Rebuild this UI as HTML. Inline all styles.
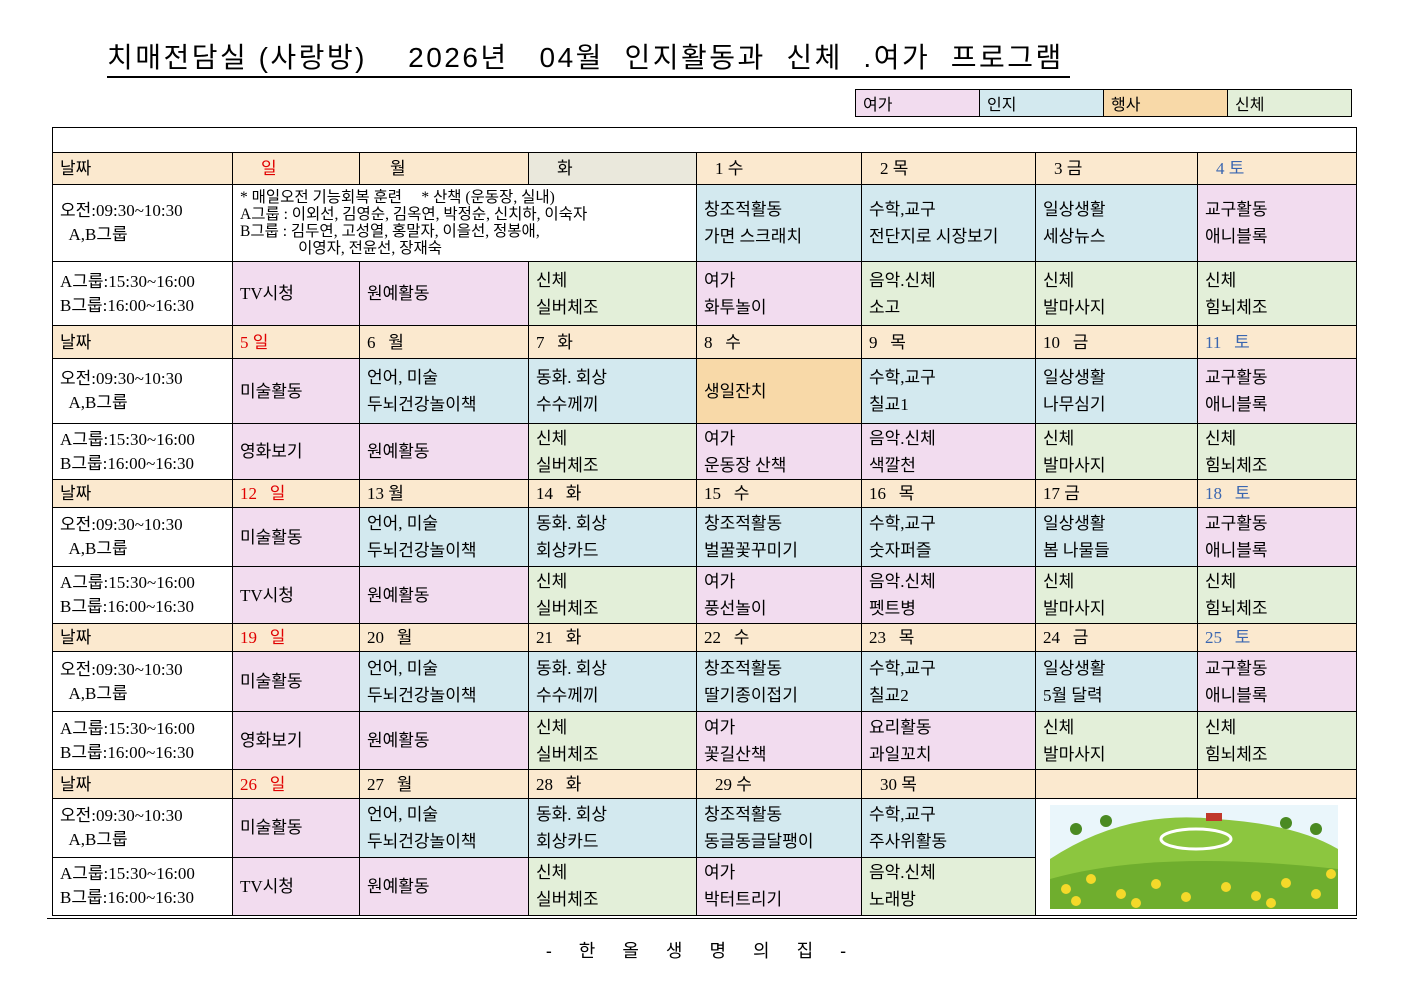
<!DOCTYPE html>
<html><head><meta charset="utf-8">
<style>
body{margin:0;background:#fff;width:1403px;height:992px;position:relative;overflow:hidden;font-family:"Liberation Serif","Noto Sans CJK KR",serif;color:#000}
.title{position:absolute;left:107px;top:40px;width:963px;height:36px;border-bottom:2px solid #000;font-family:"Liberation Sans","Noto Sans CJK KR",sans-serif;font-size:28px;line-height:36px;white-space:pre;letter-spacing:2.5px}
.legend{position:absolute;left:855px;top:89px;border-collapse:collapse}
.legend td{border:1px solid #000;width:116px;height:26px;padding:0 0 0 7px;font-size:16px;font-family:"Liberation Sans","Noto Sans CJK KR",sans-serif}
table.m{position:absolute;left:52px;top:127px;border-collapse:collapse;table-layout:fixed;width:1305px}
table.m td{border:1px solid #000;padding:0 0 0 7px;font-size:17px;line-height:27px;vertical-align:middle;overflow:hidden;white-space:nowrap}
.d td{background:#fbe9cf}
.p{background:#f2dcef}.b{background:#d3e9ef}.g{background:#e3efd9}.o{background:#f8d9a8}
.r{color:#e00000}.bl{color:#3a66b0}
.foot{position:absolute;left:47px;top:918px;width:1310px;border-top:1px solid #000}
.ft{position:absolute;left:0;width:1403px;top:937px;text-align:center;font-size:18px;letter-spacing:11px;font-family:"Liberation Sans","Noto Sans CJK KR",sans-serif}
.lbl{line-height:24px!important}
</style></head><body>
<div class="title">치매전담실 (사랑방)    2026년   04월  인지활동과  신체  .여가  프로그램</div>
<table class="legend"><tr><td class="p">여가</td><td class="b">인지</td><td class="o">행사</td><td class="g">신체</td></tr></table>
<table class="m">
<colgroup><col style="width:180px"><col style="width:127px"><col style="width:169px"><col style="width:168px"><col style="width:165px"><col style="width:174px"><col style="width:162px"><col style="width:159px"></colgroup>
<tr style="height:25px"><td colspan="8"></td></tr>
<tr class="d" style="height:32px"><td>날짜</td><td class="r" style="padding-left:28px">일</td><td style="padding-left:30px">월</td><td style="background:#eae8dc;padding-left:28px">화</td><td style="padding-left:18px">1 수</td><td style="padding-left:18px">2 목</td><td style="padding-left:18px">3 금</td><td class="bl" style="padding-left:18px">4 토</td></tr>
<tr style="height:77px"><td class="lbl">오전:09:30~10:30<br>&nbsp;&nbsp;A,B그룹</td><td colspan="3" style="font-size:15.5px;line-height:17px">* 매일오전 기능회복 훈련 &nbsp;&nbsp;&nbsp;&nbsp;* 산책 (운동장, 실내)<br>A그룹 : 이외선, 김영순, 김옥연, 박정순, 신치하, 이숙자<br>B그룹 : 김두연, 고성열, 홍말자, 이을선, 정봉애,<br>&nbsp;&nbsp;&nbsp;&nbsp;&nbsp;&nbsp;&nbsp;&nbsp;&nbsp;&nbsp;&nbsp;&nbsp;&nbsp;&nbsp;&nbsp;이영자, 전윤선, 장재숙</td><td class="b">창조적활동<br>가면 스크래치</td><td class="b">수학,교구<br>전단지로 시장보기</td><td class="b">일상생활<br>세상뉴스</td><td class="p">교구활동<br>애니블록</td></tr>
<tr style="height:64px"><td class="lbl">A그룹:15:30~16:00<br>B그룹:16:00~16:30</td><td class="p">TV시청</td><td class="p">원예활동</td><td class="g">신체<br>실버체조</td><td class="p">여가<br>화투놀이</td><td class="g">음악.신체<br>소고</td><td class="g">신체<br>발마사지</td><td class="g">신체<br>힘뇌체조</td></tr>
<tr class="d" style="height:33px"><td>날짜</td><td class="r">5 일</td><td>6 &nbsp;&nbsp;월</td><td>7 &nbsp;&nbsp;화</td><td>8 &nbsp;&nbsp;수</td><td>9 &nbsp;&nbsp;목</td><td>10 &nbsp;&nbsp;금</td><td class="bl">11 &nbsp;&nbsp;토</td></tr>
<tr style="height:65px"><td class="lbl">오전:09:30~10:30<br>&nbsp;&nbsp;A,B그룹</td><td class="p">미술활동</td><td class="b">언어, 미술<br>두뇌건강놀이책</td><td class="b">동화. 회상<br>수수께끼</td><td class="o">생일잔치</td><td class="b">수학,교구<br>칠교1</td><td class="b">일상생활<br>나무심기</td><td class="p">교구활동<br>애니블록</td></tr>
<tr style="height:56px"><td class="lbl">A그룹:15:30~16:00<br>B그룹:16:00~16:30</td><td class="p">영화보기</td><td class="p">원예활동</td><td class="g">신체<br>실버체조</td><td class="p">여가<br>운동장 산책</td><td class="p">음악.신체<br>색깔천</td><td class="g">신체<br>발마사지</td><td class="g">신체<br>힘뇌체조</td></tr>
<tr class="d" style="height:27px"><td>날짜</td><td class="r">12 &nbsp;&nbsp;일</td><td>13 월</td><td>14 &nbsp;&nbsp;화</td><td>15 &nbsp;&nbsp;수</td><td>16 &nbsp;&nbsp;목</td><td>17 금</td><td class="bl">18 &nbsp;&nbsp;토</td></tr>
<tr style="height:59px"><td class="lbl">오전:09:30~10:30<br>&nbsp;&nbsp;A,B그룹</td><td class="p">미술활동</td><td class="b">언어, 미술<br>두뇌건강놀이책</td><td class="b">동화. 회상<br>회상카드</td><td class="b">창조적활동<br>벌꿀꽃꾸미기</td><td class="b">수학,교구<br>숫자퍼즐</td><td class="b">일상생활<br>봄 나물들</td><td class="p">교구활동<br>애니블록</td></tr>
<tr style="height:57px"><td class="lbl">A그룹:15:30~16:00<br>B그룹:16:00~16:30</td><td class="p">TV시청</td><td class="p">원예활동</td><td class="g">신체<br>실버체조</td><td class="p">여가<br>풍선놀이</td><td class="p">음악.신체<br>펫트병</td><td class="g">신체<br>발마사지</td><td class="g">신체<br>힘뇌체조</td></tr>
<tr class="d" style="height:27px"><td>날짜</td><td class="r">19 &nbsp;&nbsp;일</td><td>20 &nbsp;&nbsp;월</td><td>21 &nbsp;&nbsp;화</td><td>22 &nbsp;&nbsp;수</td><td>23 &nbsp;&nbsp;목</td><td>24 &nbsp;&nbsp;금</td><td class="bl">25 &nbsp;&nbsp;토</td></tr>
<tr style="height:60px"><td class="lbl">오전:09:30~10:30<br>&nbsp;&nbsp;A,B그룹</td><td class="p">미술활동</td><td class="b">언어, 미술<br>두뇌건강놀이책</td><td class="b">동화. 회상<br>수수께끼</td><td class="b">창조적활동<br>딸기종이접기</td><td class="b">수학,교구<br>칠교2</td><td class="b">일상생활<br>5월 달력</td><td class="p">교구활동<br>애니블록</td></tr>
<tr style="height:58px"><td class="lbl">A그룹:15:30~16:00<br>B그룹:16:00~16:30</td><td class="p">영화보기</td><td class="p">원예활동</td><td class="g">신체<br>실버체조</td><td class="p">여가<br>꽃길산책</td><td class="p">요리활동<br>과일꼬치</td><td class="g">신체<br>발마사지</td><td class="g">신체<br>힘뇌체조</td></tr>
<tr class="d" style="height:29px"><td>날짜</td><td class="r">26 &nbsp;&nbsp;일</td><td>27 &nbsp;&nbsp;월</td><td>28 &nbsp;&nbsp;화</td><td style="padding-left:18px">29 수</td><td style="padding-left:18px">30 목</td><td></td><td></td></tr>
<tr style="height:58px"><td class="lbl">오전:09:30~10:30<br>&nbsp;&nbsp;A,B그룹</td><td class="p">미술활동</td><td class="b">언어, 미술<br>두뇌건강놀이책</td><td class="b">동화. 회상<br>회상카드</td><td class="b">창조적활동<br>동글동글달팽이</td><td class="b">수학,교구<br>주사위활동</td><td colspan="2" rowspan="2" style="background:#fff;padding:0">
<svg width="321" height="116" viewBox="0 0 321 116" style="display:block">
<rect x="14" y="6" width="288" height="104" fill="#eaf6fb"/>
<path d="M14 60 Q90 10 180 20 Q260 25 302 50 L302 110 L14 110 Z" fill="#8cc63f"/>
<path d="M14 80 Q120 50 302 70 L302 110 L14 110 Z" fill="#6fae2e"/>
<ellipse cx="160" cy="40" rx="35" ry="10" fill="none" stroke="#fff" stroke-width="3"/>
<rect x="170" y="14" width="16" height="8" fill="#c0392b"/>
<g fill="#f4d92a"><circle cx="30" cy="90" r="5"/><circle cx="55" cy="80" r="5"/><circle cx="85" cy="95" r="5"/><circle cx="120" cy="85" r="5"/><circle cx="150" cy="98" r="5"/><circle cx="190" cy="88" r="5"/><circle cx="220" cy="97" r="5"/><circle cx="250" cy="84" r="5"/><circle cx="280" cy="95" r="5"/><circle cx="295" cy="75" r="5"/><circle cx="40" cy="102" r="5"/><circle cx="100" cy="104" r="5"/><circle cx="235" cy="104" r="5"/></g>
<g fill="#4a8a22"><circle cx="40" cy="30" r="6"/><circle cx="70" cy="22" r="6"/><circle cx="250" cy="24" r="6"/><circle cx="280" cy="30" r="6"/></g>
</svg></td></tr>
<tr style="height:58px"><td class="lbl">A그룹:15:30~16:00<br>B그룹:16:00~16:30</td><td class="p">TV시청</td><td class="p">원예활동</td><td class="g">신체<br>실버체조</td><td class="p">여가<br>박터트리기</td><td class="g">음악.신체<br>노래방</td></tr>
</table>
<div class="foot"></div>
<div class="ft">- 한 올 생 명 의 집 -</div>
</body></html>
